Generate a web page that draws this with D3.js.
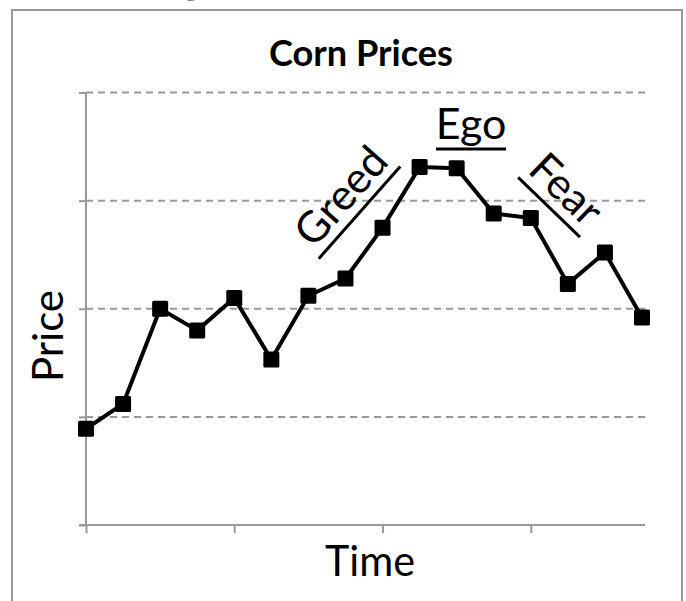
<!DOCTYPE html>
<html>
<head>
<meta charset="utf-8">
<script src="https://cdn.jsdelivr.net/npm/d3@7"></script>
<style>
  html, body { margin: 0; padding: 0; background: #fff; }
  svg { display: block; font-family: Lato, "Open Sans", sans-serif; }
</style>
</head>
<body>
<svg id="chart" width="686" height="601"></svg>
<script>
// data (price in grid units, 0 = bottom of the axis)
const periods = d3.range(16);
const prices = [0.89, 1.12, 2.0, 1.80, 2.10, 1.53, 2.12, 2.28, 2.75, 3.31, 3.30, 2.88, 2.84, 2.23, 2.52, 1.92];
const yTicks = [0, 1, 2, 3, 4];
const xTicks = [0, 4, 8, 12];

// emotion labels along the curve
const notes = [
    { text: "Greed", x: 352, y: 206, angle: -48.5, len: 123 },
    { text: "Ego", x: 471, y: 139, angle: 0, len: 70 },
    { text: "Fear", x: 556, y: 200, angle: 44, len: 86 }
];

const svg = d3.select("#chart");
const grey = "#999";

// scales
const x = d3.scaleLinear().domain([0, 15]).range([86, 642]);
const y = d3.scaleLinear().domain([0, 4]).range([525, 92.5]);

// cut-off heading above the frame
const head = svg.append("g")
    .attr("font-weight", "bold")
    .attr("font-size", 48);
const w1 = head.append("text").attr("y", -8).text("Feelings");
const w2 = head.append("text").attr("y", -8).text("Impact Prices");
const gBox = w1.node().getExtentOfChar(7);
w1.attr("x", 215 - gBox.x - gBox.width / 2);
const pBox = w2.node().getExtentOfChar(2);
w2.attr("x", 309 - pBox.x);

// outer frame
svg.append("rect")
    .attr("x", 12).attr("y", 10)
    .attr("width", 670).attr("height", 620)
    .attr("fill", "none")
    .attr("stroke", grey)
    .attr("stroke-width", 2);

// title
svg.append("text")
    .attr("x", 361).attr("y", 66)
    .attr("text-anchor", "middle")
    .attr("font-weight", "bold")
    .attr("font-size", 36)
    .attr("textLength", 184)
    .attr("lengthAdjust", "spacingAndGlyphs")
    .text("Corn Prices");

// dashed gridlines
svg.append("g")
    .selectAll("line")
    .data(yTicks.slice(1))
    .join("line")
    .attr("x1", x(0)).attr("x2", 648)
    .attr("y1", d => y(d)).attr("y2", d => y(d))
    .attr("stroke", grey)
    .attr("stroke-width", 2)
    .attr("stroke-dasharray", "7,5");

// axes
const yAxis = d3.axisLeft(y).tickValues(yTicks).tickSize(7).tickFormat("");
const xAxis = d3.axisBottom(x).tickValues(xTicks).tickSize(8).tickFormat("");

svg.append("g")
    .attr("transform", "translate(" + x(0) + ",0)")
    .call(yAxis)
    .call(g => g.select(".domain").attr("d", "M0," + y(4) + "V" + y(0)));

svg.append("g")
    .attr("transform", "translate(0," + y(0) + ")")
    .call(xAxis)
    .call(g => g.select(".domain").attr("d", "M" + (x(0) - 7) + ",0H" + 645));

svg.selectAll(".tick line, .domain")
    .attr("stroke", grey)
    .attr("stroke-width", 2);

// axis titles
svg.append("text")
    .attr("transform", "translate(63,336) rotate(-90)")
    .attr("text-anchor", "middle")
    .attr("font-size", 43)
    .attr("textLength", 92)
    .attr("lengthAdjust", "spacingAndGlyphs")
    .text("Price");

svg.append("text")
    .attr("x", 370).attr("y", 576)
    .attr("text-anchor", "middle")
    .attr("font-size", 43)
    .attr("textLength", 90)
    .attr("lengthAdjust", "spacingAndGlyphs")
    .text("Time");

// price line + square markers
const line = d3.line()
    .x((d, i) => x(periods[i]))
    .y(d => y(d));

svg.append("path")
    .datum(prices)
    .attr("fill", "none")
    .attr("stroke", "#000")
    .attr("stroke-width", 4)
    .attr("stroke-linejoin", "round")
    .attr("d", line);

svg.append("g")
    .selectAll("rect")
    .data(prices)
    .join("rect")
    .attr("x", (d, i) => x(periods[i]) - 8)
    .attr("y", d => y(d) - 8)
    .attr("width", 16).attr("height", 16)
    .attr("rx", 1.5)
    .attr("fill", "#000");

// underlined notes
const note = svg.append("g")
    .selectAll("g")
    .data(notes)
    .join("g")
    .attr("transform", d => "translate(" + d.x + "," + d.y + ") rotate(" + d.angle + ")");

note.append("text")
    .attr("text-anchor", "middle")
    .attr("font-size", 43)
    .text(d => d.text);

note.append("line")
    .attr("x1", d => -d.len / 2).attr("x2", d => d.len / 2)
    .attr("y1", 10).attr("y2", 10)
    .attr("stroke", "#000")
    .attr("stroke-width", 3);
</script>
</body>
</html>
